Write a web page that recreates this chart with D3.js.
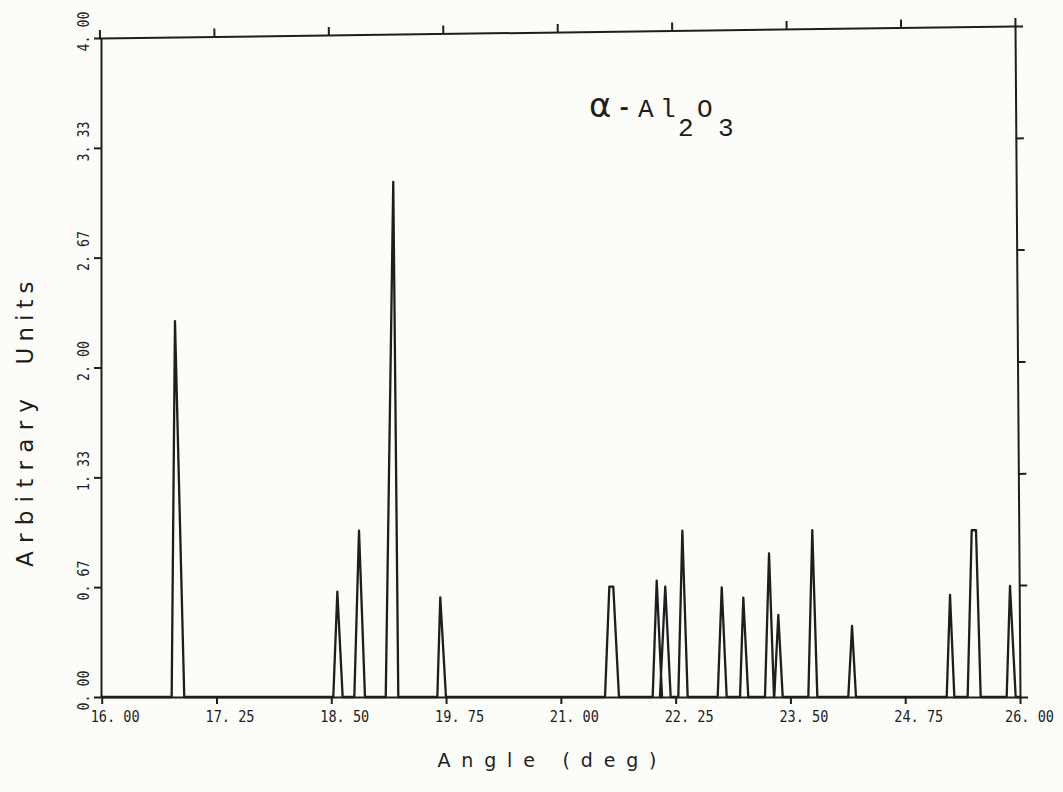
<!DOCTYPE html>
<html>
<head>
<meta charset="utf-8">
<script src="https://cdn.jsdelivr.net/npm/d3@7"></script>
<style>
  body { margin: 0; background: #fcfcf9; }
  svg { display: block; background: #fcfcf9; }
  .axis path, .axis line { stroke: #1e1e1e; stroke-width: 2px; }
  .tick text { font-family: "DejaVu Sans Mono", monospace; fill: #1e1e1e; }
  .title { font-family: "DejaVu Sans", sans-serif; fill: #1e1e1e; }
</style>
</head>
<body>
<svg width="1063" height="792"></svg>
<script>
// peaks of the trace, in degrees (base start, top start, top end, base end) and height
var peakStart    = [16.762, 18.522, 18.751, 19.093, 19.655, 21.481, 22.000, 22.079, 22.279, 22.708, 22.951, 23.223, 23.324, 23.695, 24.130, 25.202, 25.430, 25.855];
var peakTopStart = [16.798, 18.566, 18.802, 19.175, 19.687, 21.528, 22.044, 22.137, 22.323, 22.752, 22.987, 23.267, 23.368, 23.738, 24.171, 25.238, 25.474, 25.891];
var peakTopEnd   = [16.798, 18.566, 18.802, 19.175, 19.687, 21.571, 22.044, 22.137, 22.323, 22.752, 22.987, 23.267, 23.368, 23.738, 24.171, 25.238, 25.521, 25.891];
var peakEnd      = [16.899, 18.624, 18.867, 19.230, 19.749, 21.633, 22.102, 22.196, 22.381, 22.806, 23.041, 23.321, 23.416, 23.793, 24.214, 25.285, 25.572, 25.953];
var peakHeight   = [2.282, 0.639, 1.009, 3.126, 0.605, 0.670, 0.706, 0.670, 1.009, 0.666, 0.603, 0.872, 0.498, 1.012, 0.431, 0.619, 1.012, 0.674];

var xTicks = [16, 17.25, 18.5, 19.75, 21, 22.25, 23.5, 24.75, 26];
var xTickLabels = ["16. 00", "17. 25", "18. 50", "19. 75", "21. 00", "22. 25", "23. 50", "24. 75", "26. 00"];
var yTicks = [0, 0.667, 1.333, 2, 2.667, 3.333, 4];
var yTickLabels = ["0. 00", "0. 67", "1. 33", "2. 00", "2. 67", "3. 33", "4. 00"];

var svg = d3.select("svg");
var plotLeft = 101, plotRight = 1020, plotBottom = 697, plotTop = 38;

var xScale = d3.scaleLinear().domain([16, 26]).range([plotLeft + 0.7, plotRight]);
var yScale = d3.scaleLinear().domain([0, 4]).range([plotBottom, plotTop]);

// bottom axis
var gx = svg.append("g").attr("class", "axis")
  .attr("transform", "translate(0," + plotBottom + ")")
  .call(d3.axisBottom(xScale).tickValues(xTicks).tickSize(7).tickSizeOuter(0)
    .tickFormat(function(d, i) { return xTickLabels[i]; }));
gx.selectAll("text")
  .attr("y", 25).attr("dy", 0)
  .attr("dx", function(d, i) { return i === xTicks.length - 1 ? 9 : 13; })
  .style("font-size", "16px")
  .attr("textLength", 49).attr("lengthAdjust", "spacingAndGlyphs");

// left axis
var gy = svg.append("g").attr("class", "axis")
  .attr("transform", "translate(" + plotLeft + ",0)")
  .call(d3.axisLeft(yScale).tickValues(yTicks).tickSize(7).tickSizeOuter(0)
    .tickFormat(function(d, i) { return yTickLabels[i]; }));
gy.selectAll("text")
  .attr("x", 0).attr("dy", 0)
  .attr("text-anchor", "middle")
  .attr("transform", "translate(-12,-7) rotate(-90)")
  .style("font-size", "16px")
  .attr("textLength", 40).attr("lengthAdjust", "spacingAndGlyphs");

// top axis, slightly skewed like the scanned plot
var topLen = Math.sqrt(915.5 * 915.5 + 12 * 12);
var xTop = d3.scaleLinear().domain([16, 26]).range([0, topLen]);
svg.append("g").attr("class", "axis")
  .attr("transform", "translate(99.5," + plotTop + ") rotate(" + (Math.atan2(-12, 915.5) * 180 / Math.PI) + ")")
  .call(d3.axisTop(xTop).tickValues(xTicks).tickSize(8).tickSizeOuter(0).tickFormat(""));

// right axis
var rightLen = Math.sqrt(671 * 671 + 5 * 5);
var yRight = d3.scaleLinear().domain([0, 4]).range([rightLen, 0]);
svg.append("g").attr("class", "axis")
  .attr("transform", "translate(1015,26) rotate(" + (-Math.atan2(5, 671) * 180 / Math.PI) + ")")
  .call(d3.axisRight(yRight).tickValues(yTicks).tickSize(8).tickSizeOuter(0).tickFormat(""));

// trace
var trace = [[16, 0]];
peakStart.forEach(function(s, i) {
  trace.push([s, 0]);
  trace.push([peakTopStart[i], peakHeight[i]]);
  trace.push([peakTopEnd[i], peakHeight[i]]);
  trace.push([peakEnd[i], 0]);
});
trace.push([26, 0]);

var line = d3.line()
  .x(function(d) { return xScale(d[0]); })
  .y(function(d) { return yScale(d[1]); });

svg.append("path")
  .datum(trace)
  .attr("d", line)
  .attr("fill", "none")
  .attr("stroke", "#1e1e1e")
  .attr("stroke-width", 2.3)
  .attr("stroke-linejoin", "round");

// axis titles
svg.append("text").attr("class", "title")
  .attr("transform", "translate(33,483) rotate(-90)")
  .attr("text-anchor", "middle")
  .style("font-size", "23px")
  .attr("textLength", 168).attr("lengthAdjust", "spacing")
  .text("Arbitrary");
svg.append("text").attr("class", "title")
  .attr("transform", "translate(33,323) rotate(-90)")
  .attr("text-anchor", "middle")
  .style("font-size", "23px")
  .attr("textLength", 83).attr("lengthAdjust", "spacing")
  .text("Units");

svg.append("text").attr("class", "title")
  .attr("x", 547).attr("y", 767)
  .attr("text-anchor", "middle")
  .style("font-size", "19px")
  .attr("textLength", 219).attr("lengthAdjust", "spacing")
  .text("Angle (deg)");

// sample label
var lab = svg.append("text")
  .style("font-family", "'Liberation Mono', monospace")
  .style("font-size", "26px")
  .style("fill", "#1e1e1e");
lab.append("tspan").attr("x", 589).attr("y", 117)
  .style("font-family", "'DejaVu Sans', sans-serif").style("font-size", "34px").text("α");
lab.append("tspan").attr("x", 617).attr("y", 115).style("font-weight", "bold").style("font-size", "24px").text("-");
lab.append("tspan").attr("x", 638).attr("y", 117).text("A");
lab.append("tspan").attr("x", 660).attr("y", 117).text("l");
lab.append("tspan").attr("x", 678).attr("y", 136).text("2");
lab.append("tspan").attr("x", 697).attr("y", 117).text("O");
lab.append("tspan").attr("x", 718).attr("y", 136).text("3");
</script>
</body>
</html>
